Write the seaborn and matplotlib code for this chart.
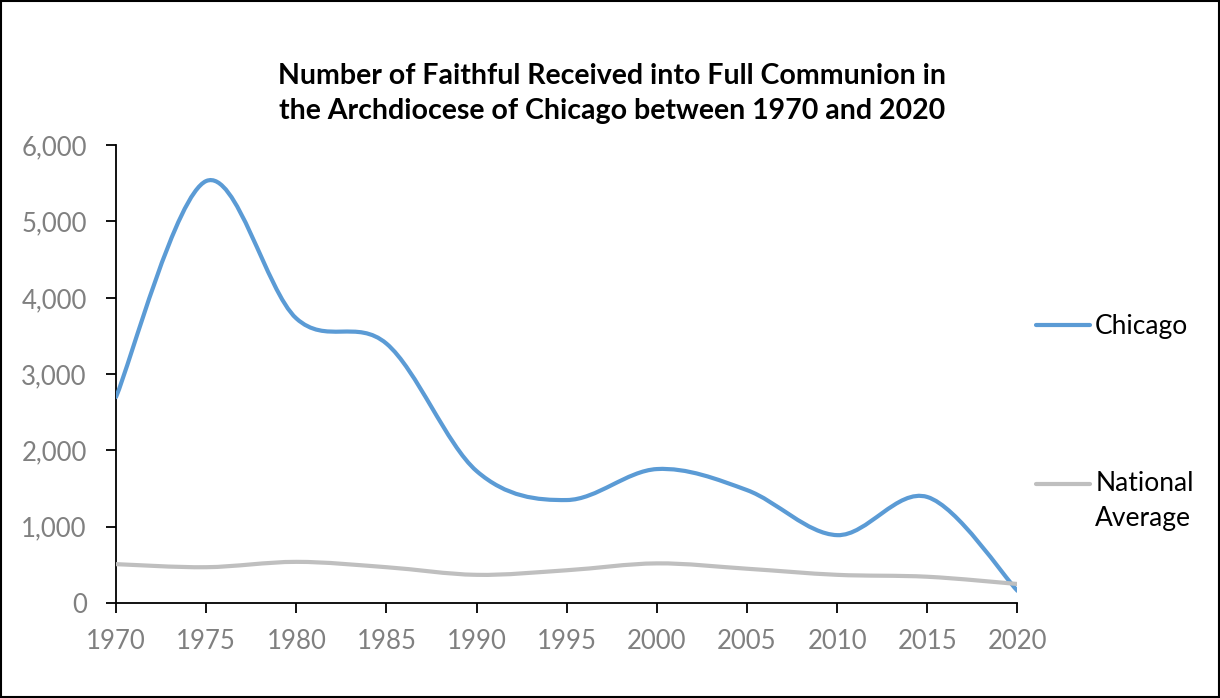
import matplotlib.pyplot as plt
import numpy as np
import pandas as pd
import seaborn as sns
from matplotlib.lines import Line2D
from matplotlib.patches import PathPatch, Rectangle
from matplotlib.path import Path
from matplotlib.ticker import FuncFormatter

years = [1970, 1975, 1980, 1985, 1990, 1995, 2000, 2005, 2010, 2015, 2020]
chicago = [2700, 5530, 3730, 3400, 1730, 1350, 1756, 1480, 890, 1390, 160]
national = [510, 470, 540, 470, 370, 430, 520, 450, 370, 345, 250]
series_names = ["Chicago", "National Average"]
series_colors = ["#5B9BD5", "#BFBFBF"]
legend_labels = ["Chicago", "National\nAverage"]
title = "Number of Faithful Received into Full Communion in\nthe Archdiocese of Chicago between 1970 and 2020"


def smooth_path(xs, ys):
    """Excel-style smoothed line: cubic Bezier segments through every point."""
    pts = np.column_stack([xs, ys]).astype(float)
    n = len(pts)
    verts = [pts[0]]
    codes = [Path.MOVETO]
    for i in range(n - 1):
        p_prev = pts[max(i - 1, 0)]
        p_next2 = pts[min(i + 2, n - 1)]
        c1 = pts[i] + (pts[i + 1] - p_prev) / 6
        c2 = pts[i + 1] - (p_next2 - pts[i]) / 6
        verts += [c1, c2, pts[i + 1]]
        codes += [Path.CURVE4] * 3
    return Path(verts, codes)


def main():
    df = pd.DataFrame({
        "year": years * 2,
        "value": chicago + national,
        "series": [series_names[0]] * len(years) + [series_names[1]] * len(years),
    })

    sns.set_theme(style="ticks")
    plt.rcParams["font.family"] = ["Lato", "DejaVu Sans"]

    fig = plt.figure(figsize=(12.2, 6.98), dpi=100)
    ax = fig.add_axes([0.0951, 0.136, 0.7389, 0.656])

    sns.lineplot(data=df, x="year", y="value", hue="series",
                 palette=series_colors, legend=False, ax=ax)
    # swap the straight segments for smoothed curves
    for line in ax.get_lines():
        line.set_visible(False)
    for name, color in zip(series_names, series_colors):
        sub = df[df["series"] == name]
        patch = PathPatch(smooth_path(sub["year"], sub["value"]), facecolor="none",
                          edgecolor=color, linewidth=3.0, capstyle="round",
                          joinstyle="round", zorder=3)
        ax.add_patch(patch)

    ax.set_xlim(1970, 2020)
    ax.set_ylim(0, 6000)
    ax.set_xticks(years)
    ax.set_yticks(range(0, 6001, 1000))
    ax.yaxis.set_major_formatter(FuncFormatter(lambda v, _: f"{int(v):,}"))
    ax.set_xlabel("")
    ax.set_ylabel("")
    ax.tick_params(axis="both", colors="black", labelcolor="#808080",
                   labelsize=18.5, length=7, width=1.3)
    ax.tick_params(axis="y", pad=14)
    ax.tick_params(axis="x", pad=12)
    for side in ["top", "right"]:
        ax.spines[side].set_visible(False)
    for side in ["left", "bottom"]:
        ax.spines[side].set_color("black")
        ax.spines[side].set_linewidth(1.3)

    fig.text(0.502, 0.866, title, ha="center", va="center", fontsize=20.5,
             fontweight="bold", color="black", linespacing=1.42)

    handles = [Line2D([0], [0], color=c, linewidth=3.0) for c in series_colors]
    leg = fig.legend(handles, legend_labels, loc="upper left",
                     bbox_to_anchor=(0.849, 0.550), frameon=False, fontsize=19,
                     handlelength=2.05, handletextpad=0.2, labelspacing=5.0,
                     borderpad=0, borderaxespad=0)
    for text in leg.get_texts():
        text.set_color("black")
        text.set_linespacing(1.5)
    # Excel puts the key line level with the first line of a wrapped label
    second = leg.legend_handles[1]
    second.set_ydata(np.asarray(second.get_ydata()) + 13)

    fig.add_artist(Rectangle((0.001, 0.001), 0.998, 0.998, transform=fig.transFigure,
                             fill=False, edgecolor="black", linewidth=1.5))

    fig.savefig("out.png", dpi=100, facecolor="white")


if __name__ == "__main__":
    main()
